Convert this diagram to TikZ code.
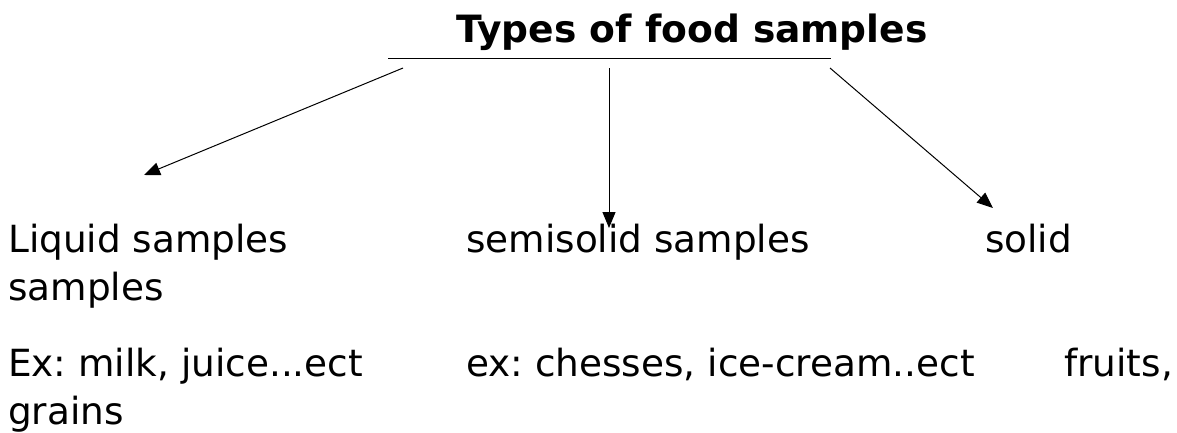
\documentclass[tikz,border=0pt]{standalone}
\usepackage{fontspec}
\setmainfont{DejaVu Sans}
\usetikzlibrary{arrows.meta}
\frenchspacing
\tikzset{
  lbl/.style={anchor=base west, inner sep=0pt, font=\fontsize{37.4}{44}\selectfont\frenchspacing},
  ttl/.style={anchor=base west, inner sep=0pt, font=\fontsize{37.6}{44}\selectfont\bfseries},
  conn/.style={line width=1pt, -{Triangle[length=16pt,width=13pt]}},
  bar/.style={line width=1pt}
}
\begin{document}
\begin{tikzpicture}[x=1pt,y=-1pt]
\useasboundingbox (0,0) rectangle (1177,432);
\node[ttl] (title) at (456,42.5) {Types of food samples};
\coordinate (barL) at (388,58.5);
\coordinate (barR) at (831,58.5);
\draw[bar] (barL) -- (barR);
\coordinate (sL) at (403,68);
\coordinate (sM) at (609,68);
\coordinate (sR) at (830,68);
\coordinate (tL) at (144,175);
\coordinate (tM) at (609,228);
\coordinate (tR) at (993,208);
\draw[conn] (sL) -- (tL);
\draw[conn] (sM) -- (tM);
\draw[conn] (sR) -- (tR);
\node[lbl] (liq) at (8,252) {Liquid samples};
\node[lbl] (liq2) at (8,300) {samples};
\node[lbl] (semi) at (466,252) {semisolid samples};
\node[lbl] (sol) at (985,252) {solid};
\node[lbl] (exliq) at (8,376) {Ex: milk, juice...ect};
\node[lbl] (exsemi) at (466,376) {ex: chesses, ice-cream..ect};
\node[lbl] (exsol) at (1064,376) {fruits,};
\node[lbl] (grains) at (8,424) {grains};
\end{tikzpicture}
\end{document}
